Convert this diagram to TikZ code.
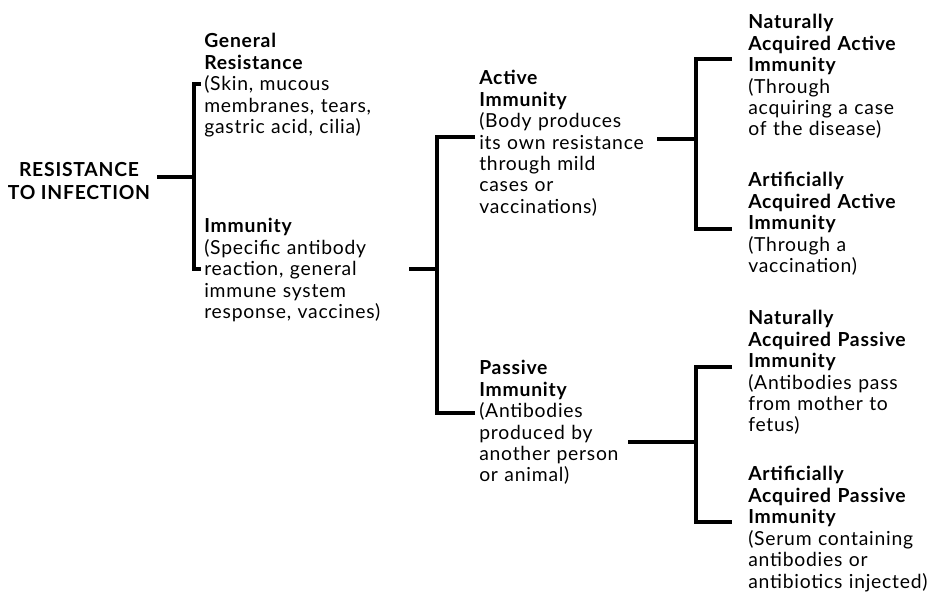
\documentclass[tikz,border=0pt]{standalone}
\usepackage{fontspec}
\setmainfont[LetterSpace=4]{Lato}
\usepackage{tikz}

\begin{document}
\begin{tikzpicture}[
      x=0.75pt,
      y=-0.75pt,
      link/.style={line width=2.5pt},
      entry/.style={anchor=north west, align=left, inner sep=0pt,
        text width=200, font=\fontsize{14.5}{16.1}\selectfont},
      title/.style={align=center, inner sep=0pt,
        font=\fontsize{14.5}{17}\selectfont\bfseries}
    ]
    \useasboundingbox (0,0) rectangle (928,596);

    \node[title] (root) at (79,181) {RESISTANCE\\TO INFECTION};

    \node[entry] (general) at (204,33)
      {\textbf{General}\\\textbf{Resistance}\\(Skin, mucous\\membranes, tears,\\gastric acid, cilia)};
    \node[entry] (immunity) at (204,218)
      {\textbf{Immunity}\\(Specific antibody\\reaction, general\\immune system\\response, vaccines)};

    \node[entry] (active) at (479,70)
      {\textbf{Active}\\\textbf{Immunity}\\(Body produces\\its own resistance\\through mild\\cases or\\vaccinations)};
    \node[entry] (passive) at (479,360)
      {\textbf{Passive}\\\textbf{Immunity}\\(Antibodies\\produced by\\another person\\or animal)};

    \node[entry] (natactive) at (748,14)
      {\textbf{Naturally}\\\textbf{Acquired Active}\\\textbf{Immunity}\\(Through\\acquiring a case\\of the disease)};
    \node[entry] (artactive) at (748,172)
      {\textbf{Artificially}\\\textbf{Acquired Active}\\\textbf{Immunity}\\(Through a\\vaccination)};
    \node[entry] (natpassive) at (748,310)
      {\textbf{Naturally}\\\textbf{Acquired Passive}\\\textbf{Immunity}\\(Antibodies pass\\from mother to\\fetus)};
    \node[entry] (artpassive) at (748,466)
      {\textbf{Artificially}\\\textbf{Acquired Passive}\\\textbf{Immunity}\\(Serum containing\\antibodies or\\antibiotics injected)};

    % bracket joints and line ends
    \coordinate (rootout) at (157,177);
    \coordinate (rootj) at (194,177);
    \coordinate (generalin) at (201,84);
    \coordinate (immunityin) at (201,269);
    \coordinate (immunityout) at (409,269);
    \coordinate (immunityj) at (437,269);
    \coordinate (activein) at (475,137);
    \coordinate (passivein) at (475,413);
    \coordinate (activeout) at (657,139);
    \coordinate (activej) at (696,139);
    \coordinate (natactivein) at (732,59);
    \coordinate (artactivein) at (732,229);
    \coordinate (passiveout) at (628,442);
    \coordinate (passivej) at (696,442);
    \coordinate (natpassivein) at (732,367);
    \coordinate (artpassivein) at (732,522);

    \draw[link] (rootout) -- (rootj);
    \draw[link] (generalin) -| (rootj) |- (immunityin);
    \draw[link] (immunityout) -- (immunityj);
    \draw[link] (activein) -| (immunityj) |- (passivein);
    \draw[link] (activeout) -- (activej);
    \draw[link] (natactivein) -| (activej) |- (artactivein);
    \draw[link] (passiveout) -- (passivej);
    \draw[link] (natpassivein) -| (passivej) |- (artpassivein);
  \end{tikzpicture}
\end{document}
